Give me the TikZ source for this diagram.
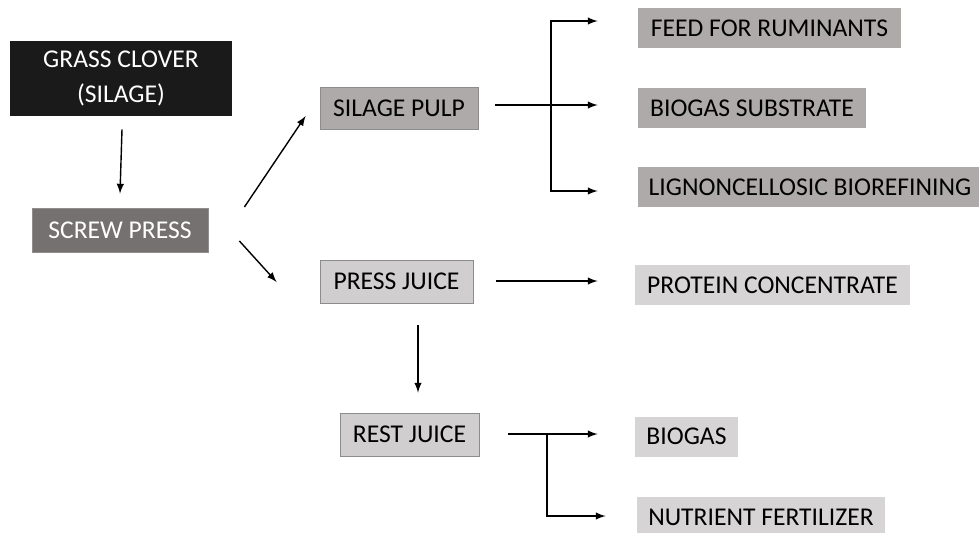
\documentclass[tikz,border=0pt]{standalone}
\usepackage{fontspec}
\setmainfont{Carlito}
\usetikzlibrary{arrows, positioning}

\definecolor{inkblack}{HTML}{1A1A1A}
\definecolor{pressgray}{HTML}{767171}
\definecolor{pulpgray}{HTML}{AEAAAA}
\definecolor{juicegray}{HTML}{D0CECE}
\definecolor{prodlight}{HTML}{D6D4D4}

\begin{document}
\begin{tikzpicture}[
    x=0.5pt, y=-0.5pt,
    font=\fontsize{12.8pt}{15.5pt}\selectfont,
    box/.style={
        rectangle,
        inner sep=0pt,
        text centered
    },
    feedstock/.style={
        box,
        fill=inkblack,
        text=white,
        font=\fontsize{12.8pt}{17.5pt}\selectfont,
        minimum width=111pt,
        minimum height=37.5pt
    },
    press/.style={
        box,
        fill=pressgray,
        draw=pressgray!80,
        text=white
    },
    fraction/.style={
        box,
        draw=black!45,
        thin
    },
    product/.style={
        box,
        minimum height=20pt
    },
    arrow/.style={
        line width=0.7pt, ->, >=latex
    }
]
\useasboundingbox (0,0) rectangle (979,532);

\node (grass) [feedstock, align=center] at (121,78.5) {GRASS CLOVER\\(SILAGE)};
\node (screw) [press, minimum width=88pt, minimum height=22pt] at (120,230) {SCREW PRESS\hspace{6pt}};
\node (pulp) [fraction, fill=pulpgray, minimum width=79pt, minimum height=21pt] at (399,108) {SILAGE PULP};
\node (juice) [fraction, fill=juicegray, minimum width=76.5pt, minimum height=21.5pt] at (396.5,281.5) {PRESS JUICE};
\node (rest) [fraction, fill=juicegray, minimum width=69.5pt, minimum height=21.5pt] at (409.5,434.5) {REST JUICE};

% silage pulp products
\node (feed) [product, fill=pulpgray, minimum width=131.5pt] at (769.5,28) {FEED FOR RUMINANTS\hspace{4pt}};
\node (substrate) [product, fill=pulpgray, minimum width=114pt] at (752,108) {BIOGAS SUBSTRATE\hspace{4pt}};
\node (ligno) [product, fill=pulpgray, minimum width=172pt] at (810,187) {LIGNONCELLOSIC BIOREFINING\hspace{8pt}};

% press juice products
\node (protein) [product, fill=prodlight, minimum width=137.5pt] at (772.5,285) {PROTEIN CONCENTRATE};
\node (biogas) [product, fill=prodlight, minimum width=51.5pt] at (686.5,436.5) {BIOGAS};
\node (nutrient) [product, fill=prodlight, minimum width=124pt] at (761,517) {NUTRIENT FERTILIZER};

\coordinate (pulpfork) at (551,105);
\coordinate (restfork) at (547,434);

\draw [arrow] ([shift={(1,13)}]grass.south) -- ([shift={(0,-14)}]screw.north);
\draw [arrow] ([shift={(36,-23)}]screw.east) -- ([shift={(-14,8)}]pulp.west);
\draw [arrow] ([shift={(31,11)}]screw.east) -- ([shift={(-43,0.5)}]juice.west);

\draw [arrow] ([shift={(17,-3)}]pulp.east) -- ([shift={(-40,-3)}]substrate.west);
\draw [arrow] (pulpfork) |- ([shift={(-40,-7)}]feed.west);
\draw [arrow] (pulpfork) |- ([shift={(-40,4)}]ligno.west);

\draw [arrow] ([shift={(23,-0.5)}]juice.east) -- ([shift={(-37,-4)}]protein.west);
\draw [arrow] ([shift={(21.5,22)}]juice.south) -- ([shift={(8.5,-20)}]rest.north);

\draw [arrow] ([shift={(29,-0.5)}]rest.east) -- ([shift={(-37,-2.5)}]biogas.west);
\draw [arrow] (restfork) |- ([shift={(-31,-1)}]nutrient.west);

\end{tikzpicture}
\end{document}
